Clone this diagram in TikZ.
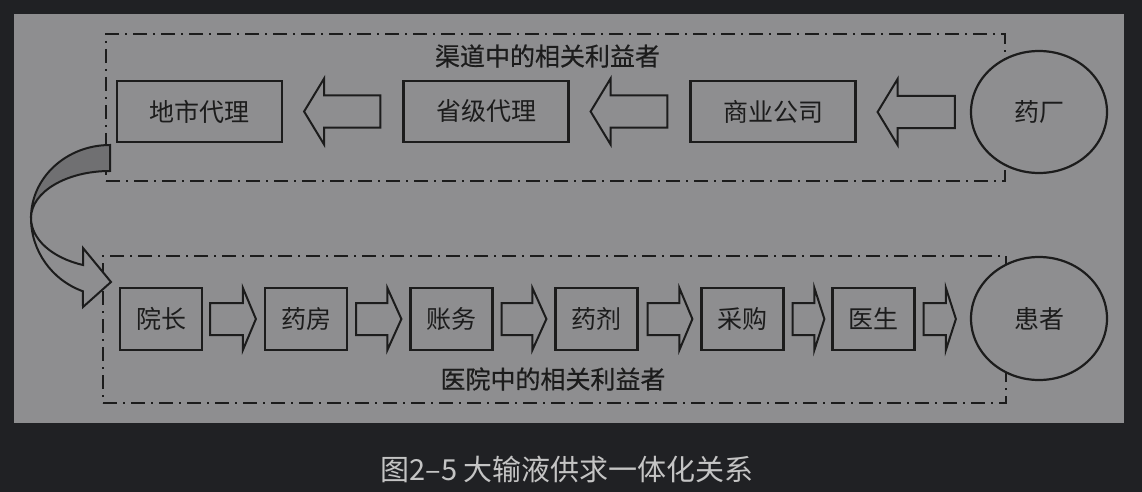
\documentclass[tikz,border=0pt]{standalone}
\usepackage{fontspec}
\newfontfamily\cjk{Noto Sans CJK SC}
\newfontfamily\cjkmed[FakeBold=0.6]{Noto Sans CJK SC}
\usetikzlibrary{calc,shapes.geometric}
\definecolor{pagebg}{HTML}{202124}
\definecolor{panel}{HTML}{8E8E90}
\definecolor{ink}{HTML}{1C1C1C}
\definecolor{band}{HTML}{707072}
\definecolor{captxt}{HTML}{C4C4C4}
% right-pointing block arrow: from node, to node, tail gap, tip gap, head length
\newcommand\rblk[5]{%
  \draw[blk] let \p1=($(#1.east)+(#3,0)$), \p2=($(#2.west)-(#4,0)$) in
    (\x1,\y1-16pt) -- (\x2-#5pt,\y1-16pt) -- (\x2-#5pt,\y1-31pt) -- (\x2,\y1)
    -- (\x2-#5pt,\y1+31pt) -- (\x2-#5pt,\y1+16pt) -- (\x1,\y1+16pt) -- cycle;}
% left-pointing block arrow: from node (right), to node (left), tail gap, tip gap, head length
\newcommand\lblk[5]{%
  \draw[blk] let \p1=($(#1.west)-(#3,0)$), \p2=($(#2.east)+(#4,0)$) in
    (\x1,\y1-16pt) -- (\x2+#5pt,\y1-16pt) -- (\x2+#5pt,\y1-33pt) -- (\x2,\y1)
    -- (\x2+#5pt,\y1+33pt) -- (\x2+#5pt,\y1+16pt) -- (\x1,\y1+16pt) -- cycle;}
\begin{document}
\begin{tikzpicture}[x=1pt,y=-1pt,
  wide/.style={draw=ink,line width=2.2pt,inner sep=0pt,minimum width=165pt,minimum height=61pt,
    font=\cjk\fontsize{25}{30}\selectfont,text=ink},
  narrow/.style={draw=ink,line width=2.2pt,inner sep=0pt,minimum width=82pt,minimum height=62pt,
    font=\cjk\fontsize{25}{30}\selectfont,text=ink},
  oval/.style={ellipse,draw=ink,fill=panel,line width=2.2pt,inner sep=0pt,minimum width=136pt,minimum height=122pt,
    font=\cjk\fontsize{25}{30}\selectfont,text=ink},
  dashbox/.style={draw=ink,line width=2pt,dash pattern=on 14pt off 6pt on 2pt off 6pt,inner sep=0pt},
  blk/.style={draw=ink,line width=2pt,line join=miter},
  grouplabel/.style={font=\cjkmed\fontsize{25}{30}\selectfont,text=ink},
  curved/.style={draw=ink,line width=2pt}]
\useasboundingbox (0,0) rectangle (1142,492);
\fill[pagebg] (0,0) rectangle (1142,492);
\fill[panel] (14,14) rectangle (1124,423);
% group frames
\node[dashbox,minimum width=899pt,minimum height=147pt] (chan) at (555.5,107.5) {};
\node[dashbox,minimum width=903pt,minimum height=147pt] (hosp) at (554.5,329.5) {};
% top row
\node[oval] (factory) at (1039,112) {药厂};
\node[wide] (agentcity) at (199.5,111.5) {地市代理};
\node[wide] (agentprov) at (486,111.5) {省级代理};
\node[wide] (company) at (773,111.5) {商业公司};
% bottom row
\node[oval,minimum height=123pt] (patient) at (1039,318.5) {患者};
\node[narrow] (dean) at (161,319) {院长};
\node[narrow] (pharmacy) at (306,319) {药房};
\node[narrow] (accounts) at (451.5,319) {账务};
\node[narrow] (dispense) at (596.5,319) {药剂};
\node[narrow] (purchase) at (742.5,319) {采购};
\node[narrow] (doctor) at (873.5,319) {医生};
% labels
\node[grouplabel] (chanlabel) at (547.5,56) {渠道中的相关利益者};
\node[grouplabel] (hosplabel) at (553,379) {医院中的相关利益者};
% block arrows top (pointing left)
\lblk{factory}{company}{15}{21}{20}
\lblk{company}{agentprov}{22}{21}{20}
\lblk{agentprov}{agentcity}{22}{21}{20}
% block arrows bottom (pointing right)
\rblk{dean}{pharmacy}{7}{8}{13}
\rblk{pharmacy}{accounts}{8}{8}{14}
\rblk{accounts}{dispense}{8}{8}{14}
\rblk{dispense}{purchase}{9}{8}{13}
\rblk{purchase}{doctor}{8}{7}{10}
\rblk{doctor}{patient}{8}{14}{10}
% curved arrow from channel group to hospital group
\coordinate (cstart) at (110,145);
\coordinate (cleft) at (31,218);
\coordinate (ctip) at (111,282);
\path[curved,fill=band] (cstart) arc[start angle=270,end angle=180,x radius=79,y radius=73]
  arc[start angle=180,end angle=270,x radius=79,y radius=47] -- cycle;
\path[curved,fill=panel,line join=miter] (cleft) arc[start angle=180,end angle=110,x radius=79,y radius=78]
  -- (83,307) -- (ctip) -- (83,248) -- (83,265)
  arc[start angle=110,end angle=180,x radius=79,y radius=50] -- cycle;
% caption
\node[font=\cjk\fontsize{29}{33}\selectfont,text=captxt] (caption) at (567,469) {图2–5 大输液供求一体化关系};
\end{tikzpicture}
\end{document}
